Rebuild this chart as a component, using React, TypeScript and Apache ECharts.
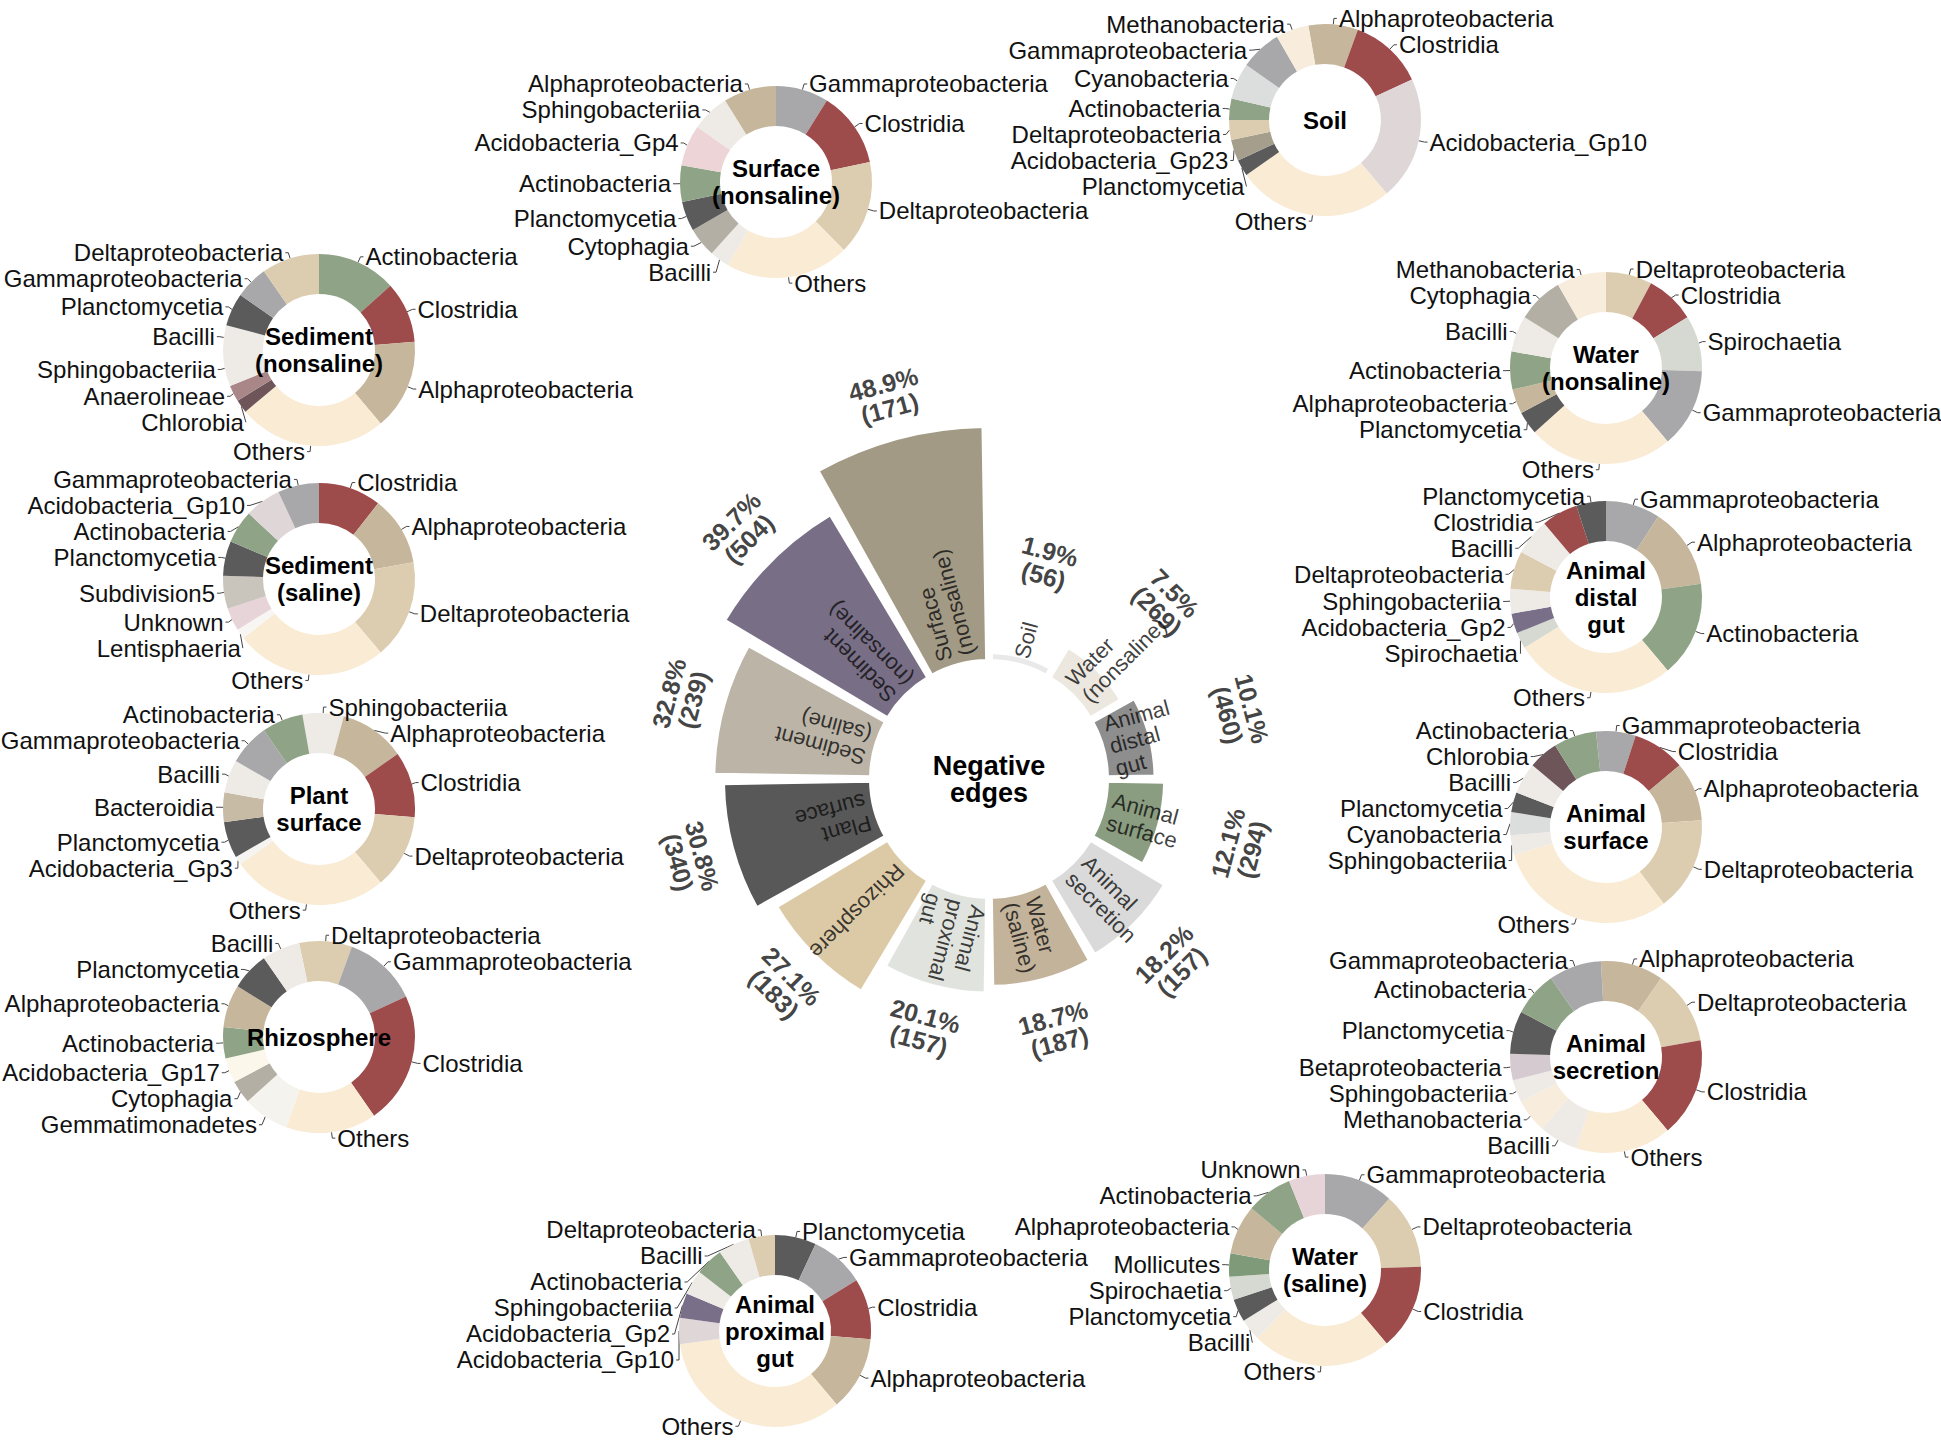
import React, { useEffect, useRef } from 'react';
import * as echarts from 'echarts';

const FONT = '"Liberation Sans", Arial, Helvetica, sans-serif';

// ---------- Central polar bar: negative edges ----------
const habitats = [
  'Soil', 'Water (nonsaline)', 'Animal distal gut', 'Animal surface', 'Animal secretion',
  'Water (saline)', 'Animal proximal gut', 'Rhizosphere', 'Plant surface',
  'Sediment (saline)', 'Sediment (nonsaline)', 'Surface (nonsaline)',
];
const habitatLabels = [
  'Soil', 'Water\n(nonsaline)', 'Animal\ndistal\ngut', 'Animal\nsurface', 'Animal\nsecretion',
  'Water\n(saline)', 'Animal\nproximal\ngut', 'Rhizosphere', 'Plant\nsurface',
  'Sediment\n(saline)', 'Sediment\n(nonsaline)', 'Surface\n(nonsaline)',
];
const negPercent = [1.9, 7.5, 10.1, 12.1, 18.2, 18.7, 20.1, 27.1, 30.8, 32.8, 39.7, 48.9];
const negCount = [56, 269, 460, 294, 157, 187, 157, 183, 340, 239, 504, 171];
const habitatColors = [
  '#e9e9e9', '#ece7df', '#8e8e8e', '#8b9d80', '#dadada', '#c3b39b',
  '#e1e4de', '#dccaa6', '#585858', '#bcb5a7', '#786e86', '#a29a85',
];

// ---------- Donut compositions (clockwise from start) ----------
const surfaceNames = ['Gammaproteobacteria', 'Clostridia', 'Deltaproteobacteria', 'Others', 'Bacilli', 'Cytophagia', 'Planctomycetia', 'Actinobacteria', 'Acidobacteria_Gp4', 'Sphingobacteriia', 'Alphaproteobacteria'];
const surfaceValues = [32, 46, 57, 75, 12, 18, 18, 22, 25, 23, 32];

const soilNames = ['Alphaproteobacteria', 'Clostridia', 'Acidobacteria_Gp10', 'Others', 'Planctomycetia', 'Acidobacteria_Gp23', 'Deltaproteobacteria', 'Actinobacteria', 'Cyanobacteria', 'Gammaproteobacteria', 'Methanobacteria'];
const soilValues = [30, 45, 75, 95, 10, 13, 12, 13, 22, 25, 20];

const sedNonNames = ['Actinobacteria', 'Clostridia', 'Alphaproteobacteria', 'Others', 'Chlorobia', 'Anaerolineae', 'Sphingobacteriia', 'Bacilli', 'Planctomycetia', 'Gammaproteobacteria', 'Deltaproteobacteria'];
const sedNonValues = [48, 37, 55, 90, 8, 10, 22, 15, 20, 20, 35];

const sedSalNames = ['Clostridia', 'Alphaproteobacteria', 'Deltaproteobacteria', 'Others', 'Lentisphaeria', 'Unknown', 'Subdivision5', 'Planctomycetia', 'Actinobacteria', 'Acidobacteria_Gp10', 'Gammaproteobacteria'];
const sedSalValues = [38, 42, 60, 92, 6, 14, 20, 21, 20, 22, 25];

const plantNames = ['Sphingobacteriia', 'Alphaproteobacteria', 'Clostridia', 'Deltaproteobacteria', 'Others', 'Acidobacteria_Gp3', 'Planctomycetia', 'Bacteroidia', 'Bacilli', 'Gammaproteobacteria', 'Actinobacteria'];
const plantValues = [25, 40, 40, 45, 95, 5, 22, 18, 20, 25, 25];

const rhizoNames = ['Deltaproteobacteria', 'Gammaproteobacteria', 'Clostridia', 'Others', 'Gemmatimonadetes', 'Cytophagia', 'Acidobacteria_Gp17', 'Actinobacteria', 'Alphaproteobacteria', 'Planctomycetia', 'Bacilli'];
const rhizoValues = [32, 45, 80, 55, 28, 14, 15, 19, 26, 23, 23];

const waterNonNames = ['Deltaproteobacteria', 'Clostridia', 'Spirochaetia', 'Gammaproteobacteria', 'Others', 'Planctomycetia', 'Alphaproteobacteria', 'Actinobacteria', 'Bacilli', 'Cytophagia', 'Methanobacteria'];
const waterNonValues = [28, 30, 34, 48, 88, 14, 15, 23, 22, 28, 30];

const distalNames = ['Gammaproteobacteria', 'Alphaproteobacteria', 'Actinobacteria', 'Others', 'Spirochaetia', 'Acidobacteria_Gp2', 'Sphingobacteriia', 'Deltaproteobacteria', 'Bacilli', 'Clostridia', 'Planctomycetia'];
const distalValues = [33, 49, 58, 98, 10, 12, 15, 23, 22, 22, 18];

const animSurfNames = ['Gammaproteobacteria', 'Clostridia', 'Alphaproteobacteria', 'Deltaproteobacteria', 'Others', 'Sphingobacteriia', 'Cyanobacteria', 'Planctomycetia', 'Bacilli', 'Chlorobia', 'Actinobacteria'];
const animSurfValues = [24, 32, 36, 57, 110, 12, 14, 12, 19, 18, 26];

const secretionNames = ['Alphaproteobacteria', 'Deltaproteobacteria', 'Clostridia', 'Others', 'Bacilli', 'Methanobacteria', 'Sphingobacteriia', 'Betaproteobacteria', 'Planctomycetia', 'Actinobacteria', 'Gammaproteobacteria'];
const secretionValues = [38, 45, 60, 58, 24, 20, 14, 16, 26, 27, 32];

const waterSalNames = ['Gammaproteobacteria', 'Deltaproteobacteria', 'Clostridia', 'Others', 'Bacilli', 'Planctomycetia', 'Spirochaetia', 'Mollicutes', 'Alphaproteobacteria', 'Actinobacteria', 'Unknown'];
const waterSalValues = [42, 46, 52, 85, 13, 14, 14, 14, 30, 28, 22];

const proximalNames = ['Planctomycetia', 'Gammaproteobacteria', 'Clostridia', 'Alphaproteobacteria', 'Others', 'Acidobacteria_Gp10', 'Acidobacteria_Gp2', 'Sphingobacteriia', 'Actinobacteria', 'Bacilli', 'Deltaproteobacteria'];
const proximalValues = [25, 33, 37, 45, 122, 16, 15, 15, 17, 19, 16];

const taxonColors: Record<string, string> = {
  Others: '#faebd5',
  Clostridia: '#9e4b4c',
  Alphaproteobacteria: '#c6b69b',
  Deltaproteobacteria: '#ddcdb0',
  Gammaproteobacteria: '#a8a8aa',
  Actinobacteria: '#8fa386',
  Planctomycetia: '#5b5b5b',
  Bacilli: '#eeebe7',
  Sphingobacteriia: '#eeeae6',
  Cytophagia: '#b4afa5',
  Acidobacteria_Gp4: '#ecd4d7',
  Acidobacteria_Gp10: '#ded6d7',
  Acidobacteria_Gp23: '#a59e8d',
  Acidobacteria_Gp2: '#7a6f88',
  Acidobacteria_Gp3: '#f6f4f0',
  Acidobacteria_Gp17: '#fbf7ea',
  Methanobacteria: '#f8ecdc',
  Cyanobacteria: '#dcdedd',
  Spirochaetia: '#d6d8d2',
  Chlorobia: '#6e5559',
  Anaerolineae: '#a98688',
  Subdivision5: '#cac5bc',
  Unknown: '#e6d4d9',
  Lentisphaeria: '#f8f6f2',
  Bacteroidia: '#c7bba5',
  Gemmatimonadetes: '#f5f3ee',
  Betaproteobacteria: '#d4cacf',
  Mollicutes: '#7f9a78',
};

const donutLayout = [
  { title: 'Surface\n(nonsaline)', names: surfaceNames, values: surfaceValues, cx: 776, cy: 182, start: 0 },
  { title: 'Soil', names: soilNames, values: soilValues, cx: 1325, cy: 120, start: -10 },
  { title: 'Sediment\n(nonsaline)', names: sedNonNames, values: sedNonValues, cx: 319, cy: 350, start: 0 },
  { title: 'Sediment\n(saline)', names: sedSalNames, values: sedSalValues, cx: 319, cy: 579, start: 0 },
  { title: 'Plant\nsurface', names: plantNames, values: plantValues, cx: 319, cy: 809, start: -10 },
  { title: 'Rhizosphere', names: rhizoNames, values: rhizoValues, cx: 319, cy: 1037, start: -12 },
  { title: 'Water\n(nonsaline)', names: waterNonNames, values: waterNonValues, cx: 1606, cy: 368, start: 0 },
  { title: 'Animal\ndistal\ngut', names: distalNames, values: distalValues, cx: 1606, cy: 597, start: 0 },
  { title: 'Animal\nsurface', names: animSurfNames, values: animSurfValues, cx: 1606, cy: 827, start: -6 },
  { title: 'Animal\nsecretion', names: secretionNames, values: secretionValues, cx: 1606, cy: 1057, start: -3 },
  { title: 'Water\n(saline)', names: waterSalNames, values: waterSalValues, cx: 1325, cy: 1270, start: 0 },
  { title: 'Animal\nproximal\ngut', names: proximalNames, values: proximalValues, cx: 775, cy: 1331, start: 0 },
];

function midAngle(i: number) {
  return 15 + 30 * i;
}

export default function App() {
  const ref = useRef<HTMLDivElement>(null);

  useEffect(() => {
    document.body.style.margin = '0';
    if (!ref.current) return;
    const chart = echarts.init(ref.current, undefined, { renderer: 'svg' });

    const pieSeries = donutLayout.map((d) => ({
      type: 'pie',
      center: [d.cx, d.cy],
      radius: [56, 96],
      startAngle: 90 - d.start,
      clockwise: true,
      avoidLabelOverlap: true,
      silent: true,
      z: 3,
      labelLayout: { hideOverlap: false },
      data: d.names.map((n, i) => ({ name: n, value: d.values[i], itemStyle: { color: taxonColors[n] || '#ccc' } })),
      label: {
        show: true,
        position: 'outside',
        formatter: '{b}',
        fontSize: 24,
        lineHeight: 20,
        fontFamily: FONT,
        color: '#111',
        distanceToLabelLine: 2,
        overflow: 'none',
        bleedMargin: 0,
      },
      labelLine: { show: true, length: 6, length2: 3, lineStyle: { color: '#444', width: 1 } },
    }));

    const option: any = {
      animation: false,
      backgroundColor: '#ffffff',
      polar: { center: [989, 779], radius: [118, 416] },
      angleAxis: {
        type: 'category',
        data: habitats,
        startAngle: 90,
        clockwise: true,
        axisLine: { show: false },
        axisTick: { show: false },
        axisLabel: { show: false },
        splitLine: { show: false },
      },
      radiusAxis: {
        type: 'value',
        min: 0,
        max: 62,
        axisLine: { show: false },
        axisTick: { show: false },
        axisLabel: { show: false },
        splitLine: { show: false },
      },
      series: [
        {
          type: 'bar',
          coordinateSystem: 'polar',
          barCategoryGap: '6%',
          silent: true,
          data: negPercent.map((v, i) => ({ value: v, itemStyle: { color: habitatColors[i] } })),
          itemStyle: { borderColor: '#ffffff', borderWidth: 4 },
        },
        {
          type: 'scatter',
          coordinateSystem: 'polar',
          symbolSize: 1,
          silent: true,
          itemStyle: { color: 'rgba(0,0,0,0)' },
          data: habitatLabels.map((t, i) => ({
            value: [1.5, i],
            label: { rotate: 90 - midAngle(i) },
          })),
          label: {
            show: true,
            position: 'inside',
            align: 'left',
            verticalAlign: 'middle',
            formatter: (p: any) => habitatLabels[p.dataIndex],
            fontSize: 22,
            lineHeight: 23,
            fontFamily: FONT,
            color: '#0d0d0d',
          },
          z: 5,
        },
        {
          type: 'scatter',
          coordinateSystem: 'polar',
          symbolSize: 1,
          silent: true,
          itemStyle: { color: 'rgba(0,0,0,0)' },
          data: negPercent.map((v, i) => {
            const a = midAngle(i);
            const rot = a > 90 && a < 270 ? 180 - a : -a;
            const r = v >= 19.5 ? v + 9 : Math.min(v + 20, 29.5);
            return { value: [r, i], label: { rotate: rot } };
          }),
          label: {
            show: true,
            position: 'inside',
            align: 'center',
            verticalAlign: 'middle',
            formatter: (p: any) => `${negPercent[p.dataIndex]}%\n(${negCount[p.dataIndex]})`,
            fontSize: 25,
            lineHeight: 25,
            fontWeight: 'bold',
            fontFamily: FONT,
            color: '#111',
          },
          z: 5,
        },
        ...pieSeries,
      ],
      graphic: [
        {
          type: 'text',
          x: 989,
          y: 779,
          z: 100,
          style: {
            text: 'Negative\nedges',
            fontSize: 27,
            fontWeight: 'bold',
            fontFamily: FONT,
            lineHeight: 27,
            fill: '#000',
            align: 'center',
            verticalAlign: 'middle',
          },
        },
        ...donutLayout.map((d) => ({
          type: 'text',
          x: d.cx,
          y: d.cy,
          z: 100,
          style: {
            text: d.title,
            fontSize: 24,
            fontWeight: 'bold',
            fontFamily: FONT,
            lineHeight: 27,
            fill: '#000',
            align: 'center',
            verticalAlign: 'middle',
          },
        })),
      ],
    };

    chart.setOption(option);
    return () => chart.dispose();
  }, []);

  return <div ref={ref} style={{ width: 1941, height: 1443 }} />;
}
